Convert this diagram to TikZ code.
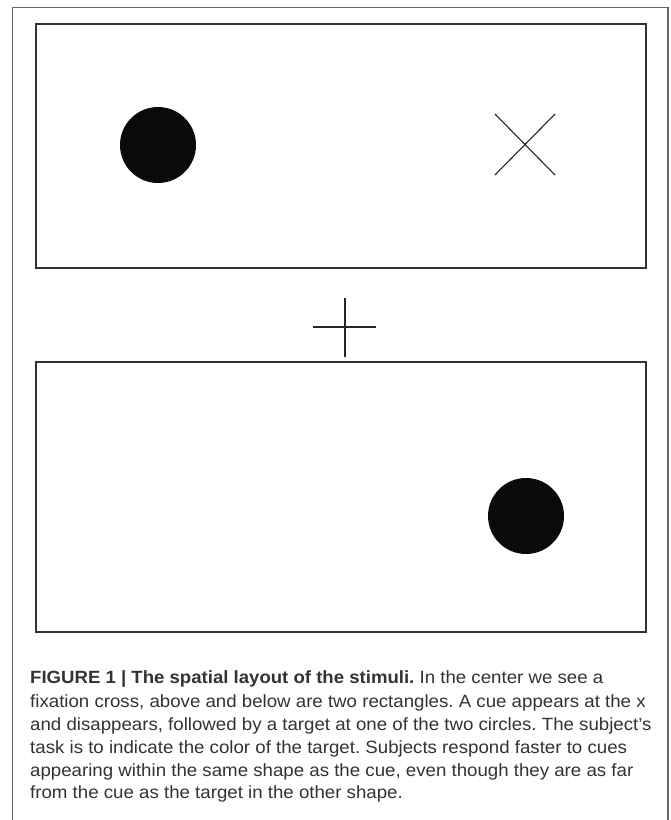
\documentclass[tikz,border=0pt]{standalone}
\usepackage{fontspec}
\setmainfont[FakeStretch=1.055]{Liberation Sans}
\newfontfamily\capbold[FakeStretch=1.05]{Liberation Sans}
\frenchspacing
\begin{document}
\begin{tikzpicture}[x=1pt,y=-1pt,
  frame/.style={draw=black!60,line width=1.2pt},
  panel/.style={draw=black!80,line width=1.5pt},
  dot/.style={fill=black!96},
  stroke/.style={draw=black!85,line width=1.1pt},
  capline/.style={anchor=base west,inner sep=0pt,text=black!80,font=\fontsize{17.7}{23}\selectfont}]
\useasboundingbox (0,0) rectangle (671,820);
\fill[white] (0,0) rectangle (671,820);
% outer frame (open at bottom)
\coordinate (fbl) at (12.5,820);
\coordinate (ftl) at (12.5,7.5);
\coordinate (ftr) at (668,7.5);
\coordinate (fbr) at (668,820);
\draw[frame] (fbl) -- (ftl) -- (ftr) -- (fbr);
% upper panel
\node[panel,minimum width=610pt,minimum height=244pt,inner sep=0pt] (upper) at (341,146) {};
\node[dot,circle,minimum size=76pt,inner sep=0pt] (cue) at (158,145) {};
\coordinate (xa) at (495,114);
\coordinate (xb) at (555,175);
\coordinate (xc) at (555,114);
\coordinate (xd) at (495,175);
\draw[stroke] (xa) -- (xb);
\draw[stroke] (xc) -- (xd);
% fixation cross
\coordinate (fl) at (313,327);
\coordinate (fr) at (376,327);
\coordinate (ft) at (345,298);
\coordinate (fb) at (345,357);
\draw[stroke] (fl) -- (fr);
\draw[stroke] (ft) -- (fb);
% lower panel
\node[panel,minimum width=610pt,minimum height=270pt,inner sep=0pt] (lower) at (341,497) {};
\node[dot,circle,minimum size=76pt,inner sep=0pt] (target) at (526,516) {};
% caption
\node[capline] (cap1) at (30,683) {{\capbold\bfseries FIGURE 1 | The spatial layout of the stimuli.} In the center we see a};
\node[capline] (cap2) at (30,707) {fixation cross, above and below are two rectangles. A cue appears at the x};
\node[capline] (cap3) at (30,730) {and disappears, followed by a target at one of the two circles. The subject’s};
\node[capline] (cap4) at (30,753) {task is to indicate the color of the target. Subjects respond faster to cues};
\node[capline] (cap5) at (30,776) {appearing within the same shape as the cue, even though they are as far};
\node[capline] (cap6) at (30,798) {from the cue as the target in the other shape.};
\end{tikzpicture}
\end{document}
